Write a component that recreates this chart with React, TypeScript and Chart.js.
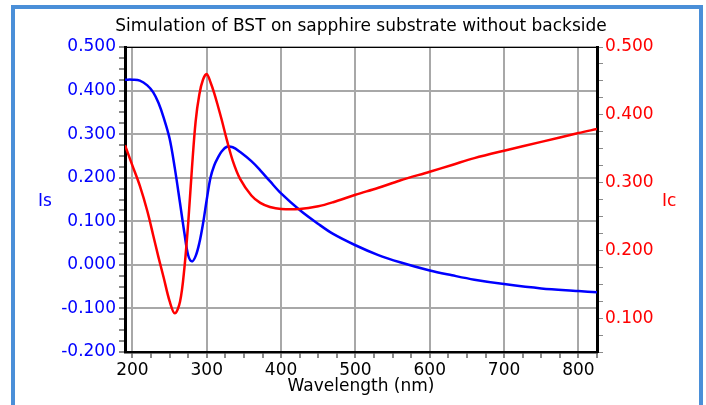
import React, { useEffect, useRef } from 'react';
import { Chart, registerables } from 'chart.js';

Chart.register(...registerables);

const chartTitle = 'Simulation of BST on sapphire substrate without backside';
const xAxisTitle = 'Wavelength (nm)';
const leftAxisTitle = 'Is';
const rightAxisTitle = 'Ic';

const wavelengths = [
  190, 200, 210, 220, 228, 235, 242, 250, 257, 264, 270, 275, 280, 285, 290, 295, 300, 305, 310, 315,
  320, 327, 335, 345, 360, 372, 385, 400, 425, 450, 470, 500, 530, 560, 600, 630, 660, 700, 750, 800, 825,
];

const isValues = [
  0.425, 0.425, 0.423, 0.412, 0.396, 0.372, 0.338, 0.29, 0.222, 0.142, 0.072, 0.022, 0.008, 0.02, 0.05,
  0.095, 0.15, 0.2, 0.228, 0.246, 0.26, 0.271, 0.27, 0.259, 0.238, 0.217, 0.192, 0.164, 0.126, 0.094,
  0.071, 0.045, 0.023, 0.006, -0.013, -0.024, -0.034, -0.044, -0.054, -0.06, -0.063,
];

const icValues = [
  0.355, 0.325, 0.295, 0.258, 0.222, 0.19, 0.16, 0.125, 0.107, 0.124, 0.175, 0.24, 0.32, 0.39, 0.43,
  0.452, 0.46, 0.448, 0.432, 0.413, 0.393, 0.363, 0.332, 0.305, 0.281, 0.27, 0.264, 0.261, 0.261, 0.265,
  0.271, 0.282, 0.292, 0.303, 0.316, 0.326, 0.336, 0.347, 0.36, 0.373, 0.379,
];

const xRange = [190, 825];
const isRange = [-0.2, 0.5];
const icRange = [0.05, 0.5];
const xMajorTicks = [200, 300, 400, 500, 600, 700, 800];
const isMajorTicks = [-0.2, -0.1, 0, 0.1, 0.2, 0.3, 0.4, 0.5];
const icMajorTicks = [0.1, 0.2, 0.3, 0.4, 0.5];
const xMinorStep = 25;
const yMinorStep = 0.025;

const FONT = '"DejaVu Sans", sans-serif';
const GRID = '#a8a8a8';
const TICK = '#8a8a8a';
const BLUE = '#0000ff';
const RED = '#ff0000';

const near = (a: number, b: number) => Math.abs(a - b) < 1e-6;
const isMajorOf = (v: number, list: number[]) => list.some((m) => near(v, m));

const minorTicks = (min: number, max: number, step: number) => {
  const out: { value: number }[] = [];
  const start = Math.ceil(min / step - 1e-6);
  const end = Math.floor(max / step + 1e-6);
  for (let k = start; k <= end; k++) out.push({ value: Math.round(k * step * 1e6) / 1e6 });
  return out;
};

export default function App() {
  const ref = useRef<HTMLCanvasElement>(null);

  useEffect(() => {
    const canvas = ref.current;
    if (!canvas) return;

    const textPlugin = {
      id: 'texts',
      afterDraw(chart: any) {
        const ctx = chart.ctx;
        const a = chart.chartArea;
        ctx.save();
        ctx.strokeStyle = '#000';
        ctx.lineWidth = 1;
        ctx.beginPath();
        ctx.moveTo(a.left, a.top + 0.5);
        ctx.lineTo(a.right, a.top + 0.5);
        ctx.stroke();
        ctx.font = `17px ${FONT}`;
        ctx.textBaseline = 'alphabetic';
        ctx.textAlign = 'center';
        ctx.fillStyle = '#000';
        ctx.fillText(chartTitle, (a.left + a.right) / 2, 31);
        ctx.fillText(xAxisTitle, (a.left + a.right) / 2, 391);
        ctx.textAlign = 'left';
        ctx.fillStyle = BLUE;
        ctx.fillText(leftAxisTitle, 38, 206);
        ctx.fillStyle = RED;
        ctx.fillText(rightAxisTitle, 662, 206);
        ctx.restore();
      },
    };

    const yLabel = (v: any, list: number[]) => {
      const n = Number(v);
      if (!isMajorOf(n, list)) return '';
      return (Math.abs(n) < 1e-9 ? 0 : n).toFixed(3);
    };

    const chart = new Chart(canvas, {
      type: 'line',
      data: {
        datasets: [
          {
            label: rightAxisTitle,
            data: wavelengths.map((w, i) => ({ x: w, y: icValues[i] })),
            borderColor: RED,
            borderWidth: 2.5,
            pointRadius: 0,
            tension: 0.35,
            yAxisID: 'y1',
          },
          {
            label: leftAxisTitle,
            data: wavelengths.map((w, i) => ({ x: w, y: isValues[i] })),
            borderColor: BLUE,
            borderWidth: 2.5,
            pointRadius: 0,
            tension: 0.35,
            yAxisID: 'y',
          },
        ],
      },
      options: {
        responsive: false,
        maintainAspectRatio: false,
        animation: false,
        layout: { padding: { top: 47, left: 0, right: 0, bottom: 0 } },
        plugins: { legend: { display: false }, tooltip: { enabled: false }, title: { display: false } },
        scales: {
          x: {
            type: 'linear',
            min: xRange[0],
            max: xRange[1],
            afterBuildTicks: (s: any) => {
              s.ticks = minorTicks(xRange[0], xRange[1], xMinorStep);
            },
            afterFit: (s: any) => {
              s.height = 53;
            },
            ticks: {
              autoSkip: false,
              maxRotation: 0,
              padding: 2,
              color: '#000',
              font: { family: FONT, size: 17 },
              callback: (v: any) => (isMajorOf(Number(v), xMajorTicks) ? String(Math.round(Number(v))) : ''),
            },
            grid: {
              color: (c: any) => (c.tick && isMajorOf(c.tick.value, xMajorTicks) ? GRID : 'rgba(0,0,0,0)'),
              lineWidth: 2,
              tickColor: TICK,
              tickLength: 6,
            },
            border: { color: '#000', width: 2.5 },
          },
          y: {
            type: 'linear',
            position: 'left',
            min: isRange[0],
            max: isRange[1],
            afterBuildTicks: (s: any) => {
              s.ticks = minorTicks(isRange[0], isRange[1], yMinorStep);
            },
            afterFit: (s: any) => {
              s.width = 125;
            },
            ticks: {
              autoSkip: false,
              padding: 3,
              color: BLUE,
              font: { family: FONT, size: 17 },
              callback: (v: any) => yLabel(v, isMajorTicks),
            },
            grid: {
              color: (c: any) => (c.tick && isMajorOf(c.tick.value, isMajorTicks) ? GRID : 'rgba(0,0,0,0)'),
              lineWidth: 2,
              tickColor: TICK,
              tickLength: 6,
            },
            border: { color: '#000', width: 3 },
          },
          y1: {
            type: 'linear',
            position: 'right',
            min: icRange[0],
            max: icRange[1],
            afterBuildTicks: (s: any) => {
              s.ticks = minorTicks(icRange[0], icRange[1], yMinorStep);
            },
            afterFit: (s: any) => {
              s.width = 109;
            },
            ticks: {
              autoSkip: false,
              padding: 2,
              color: RED,
              font: { family: FONT, size: 17 },
              callback: (v: any) => yLabel(v, icMajorTicks),
            },
            grid: {
              drawOnChartArea: false,
              tickColor: TICK,
              tickLength: 6,
            },
            border: { color: '#000', width: 3 },
          },
        },
      },
      plugins: [textPlugin],
    } as any);

    return () => chart.destroy();
  }, []);

  return (
    <div style={{ position: 'absolute', left: 0, top: 0, width: 706, height: 405, background: '#fff', overflow: 'hidden' }}>
      <div
        style={{
          position: 'absolute',
          left: 11,
          top: 5,
          width: 692,
          height: 400,
          boxSizing: 'border-box',
          borderTop: '4px solid #4a8fd8',
          borderLeft: '4px solid #4a8fd8',
          borderRight: '4px solid #4a8fd8',
        }}
      />
      <canvas ref={ref} width={706} height={405} style={{ position: 'absolute', left: 0, top: 0, width: 706, height: 405 }} />
    </div>
  );
}
